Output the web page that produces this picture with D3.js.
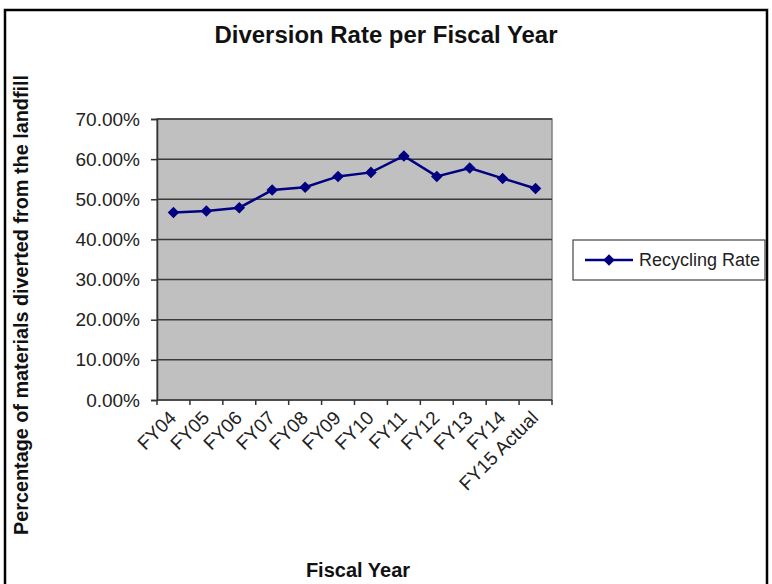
<!DOCTYPE html>
<html><head><meta charset="utf-8">
<script src="https://cdn.jsdelivr.net/npm/d3@7"></script>
<style>body{margin:0;background:#fff}svg{display:block;font-family:"Liberation Sans",Arial,sans-serif}</style>
</head><body>
<svg id="c" width="772" height="584"></svg>
<script>
const categories = ["FY04","FY05","FY06","FY07","FY08","FY09","FY10","FY11","FY12","FY13","FY14","FY15 Actual"];
const recyclingRate = [46.7, 47.1, 47.9, 52.3, 53.0, 55.7, 56.7, 60.8, 55.7, 57.8, 55.2, 52.7];
const yTicks = [0,10,20,30,40,50,60,70];
const seriesName = "Recycling Rate";

const svg = d3.select("#c");
const L = 157, R = 552, T = 119, B = 400;

// outer frame
svg.append("rect").attr("x",5).attr("y",10).attr("width",762).attr("height",590)
  .attr("fill","#fff").attr("stroke","#000").attr("stroke-width",2.5);

const x = d3.scaleBand().domain(categories).range([L,R]).padding(0);
const y = d3.scaleLinear().domain([0,70]).range([B,T]);

svg.append("rect").attr("x",L).attr("y",T).attr("width",R-L).attr("height",B-T)
  .attr("fill","#c0c0c0").attr("stroke","#808080").attr("stroke-width",1.5);

// gridlines
svg.append("g").selectAll("line").data(yTicks.filter(d=>d>0)).join("line")
  .attr("x1",L).attr("x2",R).attr("y1",d=>y(d)).attr("y2",d=>y(d))
  .attr("stroke","#3a3a3a").attr("stroke-width",1.5);

// y axis
const ya = svg.append("g").attr("transform",`translate(${L},0)`)
  .call(d3.axisLeft(y).tickValues(yTicks).tickSize(6).tickPadding(11).tickFormat(d=>d.toFixed(2)+"%"));
ya.select(".domain").attr("stroke","#333").attr("stroke-width",1.5);
ya.selectAll(".tick line").attr("stroke","#333").attr("stroke-width",1.5);
ya.selectAll("text").attr("font-size",19).attr("fill","#222").attr("font-family","Liberation Sans, Arial, sans-serif");

// x axis with ticks at category boundaries
const xa = svg.append("g").attr("transform",`translate(0,${B})`);
xa.append("line").attr("x1",L).attr("x2",R).attr("stroke","#333").attr("stroke-width",1.5);
const bounds = categories.map(c=>x(c)).concat([x(categories[categories.length-1])+x.bandwidth()]);
xa.selectAll(".tk").data(bounds).join("line").attr("class","tk")
  .attr("x1",d=>d).attr("x2",d=>d).attr("y1",0).attr("y2",5).attr("stroke","#333").attr("stroke-width",1.5);
xa.selectAll(".lb").data(categories).join("text").attr("class","lb")
  .attr("transform",d=>`translate(${x(d)+x.bandwidth()/2+4},${19}) rotate(-45)`)
  .attr("text-anchor","end").attr("font-size",19).attr("fill","#222").text(d=>d);

// line
const line = d3.line().x((d,i)=>x(categories[i])+x.bandwidth()/2).y(d=>y(d));
svg.append("path").datum(recyclingRate).attr("d",line).attr("fill","none")
  .attr("stroke","#000080").attr("stroke-width",2.5);
const diamond = d3.symbol().type(d3.symbolDiamond2).size(85);
svg.append("g").selectAll("path").data(recyclingRate).join("path")
  .attr("transform",(d,i)=>`translate(${x(categories[i])+x.bandwidth()/2},${y(d)})`)
  .attr("d",diamond).attr("fill","#000080");

// titles
svg.append("text").attr("x",386).attr("y",43).attr("text-anchor","middle")
  .attr("font-size",23).attr("font-weight","bold").attr("fill","#111")
  .attr("textLength",343).attr("lengthAdjust","spacingAndGlyphs").text("Diversion Rate per Fiscal Year");
svg.append("text").attr("x",358).attr("y",577).attr("text-anchor","middle")
  .attr("font-size",20).attr("font-weight","bold").attr("fill","#111").text("Fiscal Year");
svg.append("text").attr("transform","translate(28,305) rotate(-90)").attr("text-anchor","middle")
  .attr("font-size",20).attr("font-weight","bold").attr("fill","#111")
  .attr("textLength",460).attr("lengthAdjust","spacingAndGlyphs").text("Percentage of materials diverted from the landfill");

// legend
const lg = svg.append("g");
lg.append("rect").attr("x",573).attr("y",240).attr("width",192).attr("height",40)
  .attr("fill","#fff").attr("stroke","#444").attr("stroke-width",1.2);
lg.append("line").attr("x1",585).attr("x2",633).attr("y1",260).attr("y2",260).attr("stroke","#000080").attr("stroke-width",2.5);
lg.append("path").attr("transform","translate(609,260)").attr("d",diamond).attr("fill","#000080");
lg.append("text").attr("x",639).attr("y",266).attr("font-size",18).attr("fill","#222").text(seriesName);
</script>
</body></html>
